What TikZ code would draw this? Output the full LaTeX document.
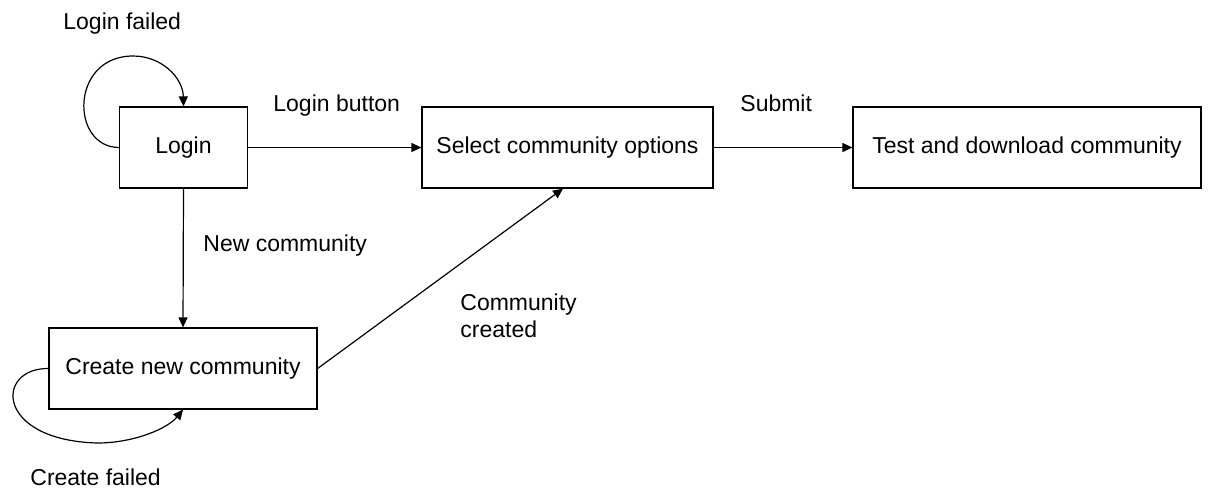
\documentclass[tikz,border=0pt]{standalone}
\usepackage{fontspec}
\setmainfont{Liberation Sans}
\usetikzlibrary{arrows.meta}
\begin{document}
\begin{tikzpicture}[x=0.5pt,y=-0.5pt,
  every node/.style={font=\fontsize{11.5}{13.5}\selectfont},
  statebox/.style={draw, line width=0.6pt, minimum height=40.5pt, inner sep=0pt},
  lbl/.style={inner sep=0pt, anchor=base west},
  conn/.style={line width=0.6pt, -{Triangle[length=5pt,width=4.5pt]}}]
\useasboundingbox (0,0) rectangle (1210,494);
\node[statebox, minimum width=64pt]  (login)  at (183.5,147.5) {Login};
\node[statebox, minimum width=145.5pt] (select) at (567.5,147.5) {Select community options};
\node[statebox, minimum width=174pt] (test)   at (1027,147.5) {Test and download community};
\node[statebox, minimum width=134pt] (create) at (183,368.5) {Create new community};
\coordinate (selin) at ([xshift=-2.25pt]select.south);
% connectors
\draw[conn] (login.east) -- (select.west);
\draw[conn] (select.east) -- (test.west);
\draw[conn] (login.south) -- (create.north);
\draw[conn] (create.east) -- (selin);
\draw[conn] (login.west) .. controls (70,147) and (70,56) .. (133,56)
   .. controls (162,56) and (183,78) .. (login.north);
\draw[conn] (create.west) .. controls (-5,368) and (-5,440) .. (97,443)
   .. controls (135,443) and (168,428) .. (create.south);
% labels
\node[lbl] (lfail) at (63,29) {Login failed};
\node[lbl] (lbtn) at (273,111) {Login button};
\node[lbl] (lsub) at (740,111) {Submit};
\node[lbl] (lnew) at (203,251) {New community};
\node[inner sep=0pt, anchor=north west, align=left] (lcre) at (460,293) {Community\\created};
\node[lbl] (lcf) at (30,485) {Create failed};
\end{tikzpicture}
\end{document}
